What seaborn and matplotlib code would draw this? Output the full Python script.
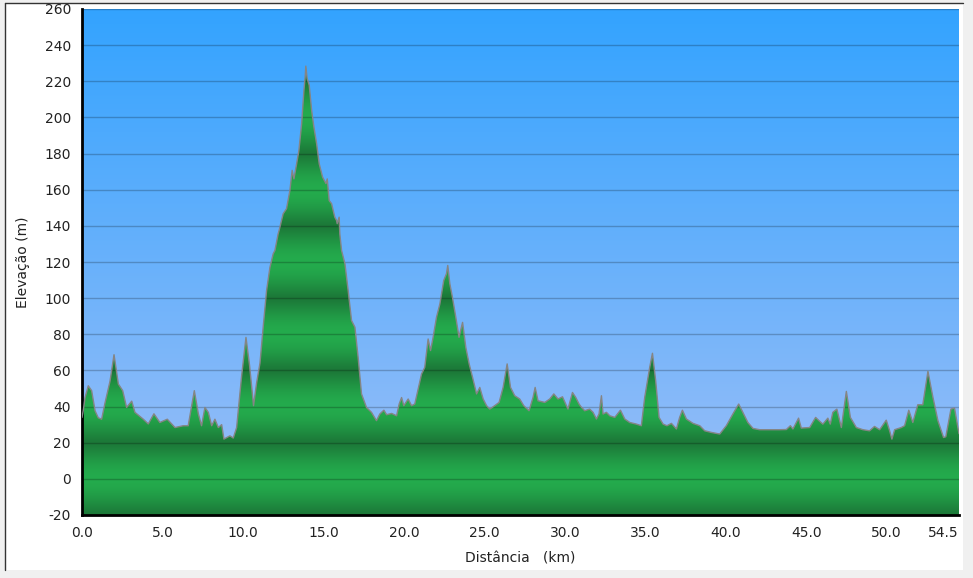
import matplotlib
matplotlib.use("Agg")
import matplotlib.pyplot as plt
import seaborn as sns
import pandas as pd
import numpy as np
from matplotlib.patches import Polygon, Rectangle
from matplotlib.lines import Line2D

# ---- data ----
distance_km = [
    0.00, 0.08, 0.19, 0.39, 0.60, 0.81, 1.01, 1.22, 1.43, 1.74, 1.99, 2.26, 2.53, 2.77,
    3.09, 3.29, 3.81, 4.12, 4.47, 4.84, 5.30, 5.78, 6.29, 6.60, 6.98, 7.23, 7.43, 7.64,
    7.85, 8.06, 8.26, 8.47, 8.68, 8.82, 9.09, 9.19, 9.40, 9.61, 9.71, 9.92, 10.19, 10.41,
    10.66, 10.85, 11.06, 11.26, 11.47, 11.68, 11.88, 11.99, 12.19, 12.25, 12.50, 12.71,
    12.92, 13.06, 13.17, 13.34, 13.48, 13.65, 13.79, 13.87, 13.91, 13.99, 14.12, 14.27,
    14.41, 14.58, 14.74, 14.95, 15.16, 15.24, 15.36, 15.51, 15.71, 15.82, 15.86, 15.98,
    16.02, 16.13, 16.34, 16.54, 16.75, 16.96, 17.16, 17.37, 17.68, 17.99, 18.30, 18.51,
    18.76, 18.93, 19.24, 19.55, 19.71, 19.86, 20.00, 20.27, 20.48, 20.68, 20.89, 21.10,
    21.30, 21.51, 21.66, 21.82, 22.03, 22.24, 22.48, 22.65, 22.73, 22.86, 23.02, 23.23,
    23.43, 23.65, 23.85, 24.06, 24.27, 24.52, 24.72, 24.93, 25.14, 25.34, 25.65, 25.92,
    26.17, 26.42, 26.63, 26.89, 27.20, 27.45, 27.78, 28.03, 28.16, 28.34, 28.76, 29.07,
    29.32, 29.58, 29.86, 30.20, 30.48, 30.68, 30.89, 31.00, 31.24, 31.55, 31.76, 31.97,
    32.13, 32.28, 32.38, 32.59, 32.80, 33.11, 33.46, 33.73, 34.04, 34.45, 34.76, 34.97,
    35.28, 35.45, 35.65, 35.86, 36.11, 36.35, 36.63, 36.94, 37.14, 37.31, 37.56, 37.97,
    38.39, 38.70, 39.11, 39.63, 40.04, 40.45, 40.81, 41.07, 41.38, 41.70, 42.11, 42.73,
    43.35, 43.77, 44.02, 44.18, 44.53, 44.70, 45.22, 45.59, 45.80, 46.04, 46.35, 46.50,
    46.66, 46.91, 47.19, 47.50, 47.75, 48.12, 48.53, 48.94, 49.25, 49.57, 49.98, 50.19,
    50.33, 50.50, 50.91, 51.12, 51.38, 51.63, 51.94, 52.25, 52.57, 52.88, 53.19, 53.54,
    53.68, 54.00, 54.22, 54.43, 54.50,
]
elevation_m = [
    34, 38, 45, 51.5, 48.8, 37.7, 33.8, 33, 42, 54, 68.7, 52.5, 48.8, 39.5,
    43, 36.8, 33, 30.4, 36, 31.2, 33, 28.4, 29.4, 29.4, 48.8, 36, 29.4, 39.5,
    36.8, 29.4, 33, 28.4, 30, 22, 23.3, 23.8, 22.6, 28.4, 37.7, 57, 78.3, 63,
    40.5, 53, 64, 84, 104.2, 117.1, 124.5, 126.4, 135.6, 137.5, 146.7, 149.5,
    159.6, 170.7, 166, 174.4, 181.8, 196.6, 214.9, 222.5, 228.4, 221.6, 217.8, 204,
    194.7, 185.5, 174.4, 167, 163.4, 166, 154, 152.3, 144.8, 143, 141.2, 144.8,
    135.6, 126.4, 119, 104.2, 87.6, 83.9, 67.2, 47, 39.5, 36.8, 32.2, 35.9,
    38, 35.5, 36.2, 34.9, 41.4, 45, 40.5, 44.2, 40.5, 41.4, 49.7, 58,
    61.7, 77.4, 71, 78.3, 89.4, 96.8, 109.8, 113.5, 118.1, 107.9, 100.5, 89.4,
    78.3, 86.6, 72.8, 63.6, 56.2, 47, 50.6, 44.2, 40.5, 38.6, 40.5, 42.3,
    50.6, 63.6, 50.6, 46, 44.2, 40.5, 37.7, 45.1, 50.6, 43.2, 42.3, 44.2,
    47, 44.2, 45.4, 38.6, 47.8, 45.1, 41.4, 40, 37.7, 38.6, 36.8, 33.1,
    35.9, 46, 35.9, 36.8, 34.9, 34, 38, 33.1, 31.2, 30.3, 29.4, 45.1,
    61.7, 69.5, 54.3, 34, 30.3, 29.4, 30.7, 27.6, 34, 38, 33.1, 30.7,
    29.4, 26.6, 25.7, 24.8, 29.4, 35.9, 41.4, 36.8, 31.2, 27.9, 27.2, 27.2,
    27.2, 27.3, 29.4, 27.6, 33.6, 28.1, 28.4, 34, 32.2, 30.3, 33.6, 30.3,
    36.8, 38.6, 28.4, 48.4, 34, 28.4, 27.2, 26.6, 29, 27.2, 32.5, 26.6,
    22, 27.2, 28.4, 29.4, 38, 31.2, 41, 41, 59.5, 45.1, 32.2, 22.9,
    23.3, 38.6, 39.2, 28.4, 25,
]
x_ticks = [0, 5, 10, 15, 20, 25, 30, 35, 40, 45, 50, 54.5]
y_ticks = list(range(-20, 261, 20))

df = pd.DataFrame({"km": distance_km, "elev": elevation_m})

# ---- style ----
sns.set_style("white")
plt.rcParams["font.family"] = ["DejaVu Sans"]
plt.rcParams["axes.unicode_minus"] = False

fig = plt.figure(figsize=(9.73, 5.78), dpi=100, facecolor="#f0f0f0")

# white panel with dark left/top border (behind the axes)
fig.patches.append(Rectangle((5 / 973, 8 / 578), 958 / 973, 567 / 578,
                             transform=fig.transFigure, facecolor="white",
                             edgecolor="none", zorder=-5))
fig.lines.append(Line2D([5 / 973, 5 / 973], [8 / 578, 575 / 578],
                        transform=fig.transFigure, color="#333333", lw=1, zorder=-4))
fig.lines.append(Line2D([5 / 973, 963 / 973], [575 / 578, 575 / 578],
                        transform=fig.transFigure, color="#333333", lw=1, zorder=-4))

ax = fig.add_axes([82 / 973, 63 / 578, 877 / 973, 506 / 578])
ymin, ymax = -20, 260
xmax = 54.5

# blue background gradient
top = np.array([0.20, 0.64, 1.00])
bot = np.array([0.62, 0.75, 0.97])
t = np.linspace(0, 1, 400)[:, None]
bg = (bot + (top - bot) * t)[:, None, :]
ax.imshow(bg, extent=[0, xmax, ymin, ymax], aspect="auto", origin="lower", zorder=0)

# banded green gradient (dark at 20, 60, 100 ...; bright at 0, 40, 80 ...)
vals = np.linspace(ymin, ymax, 1400)
shade = (0.5 + 0.5 * np.cos(2 * np.pi * vals / 40.0)) ** 0.6
dark = np.array([0.11, 0.47, 0.22])
bright = np.array([0.14, 0.67, 0.30])
green = (dark + (bright - dark) * shade[:, None])[:, None, :]
img = ax.imshow(green, extent=[0, xmax, ymin, ymax], aspect="auto", origin="lower", zorder=1)
verts = np.column_stack([np.r_[df["km"], df["km"].iloc[-1], df["km"].iloc[0]],
                         np.r_[df["elev"], ymin, ymin]])
clip = Polygon(verts, closed=True, facecolor="none", edgecolor="none")
ax.add_patch(clip)
img.set_clip_path(clip)

# outline
sns.lineplot(data=df, x="km", y="elev", ax=ax, color="#858585", lw=1.0,
             sort=False, zorder=3)

# grid lines
for v in y_ticks:
    ax.axhline(v, color="black", alpha=0.22, lw=1, zorder=2.5)

ax.set_xlim(0, xmax)
ax.set_ylim(ymin, ymax)
ax.set_xticks(x_ticks)
ax.set_xticklabels([f"{v:.1f}" for v in x_ticks])
ax.get_xticklabels()[-1].set_horizontalalignment("right")
ax.set_yticks(y_ticks)
ax.set_yticklabels([str(v) for v in y_ticks])
ax.tick_params(axis="both", direction="out", length=5, width=1.5, color="black",
               labelsize=10, labelcolor="#222222", pad=3)

for s in ["top", "right"]:
    ax.spines[s].set_visible(False)
for s in ["left", "bottom"]:
    ax.spines[s].set_color("black")
    ax.spines[s].set_linewidth(2)

ax.set_xlabel("Distância   (km)", fontsize=10, color="#222222", labelpad=8)
ax.set_ylabel("Elevação (m)", fontsize=10, color="#222222", labelpad=10)

fig.savefig("out.png", dpi=100, facecolor=fig.get_facecolor())
